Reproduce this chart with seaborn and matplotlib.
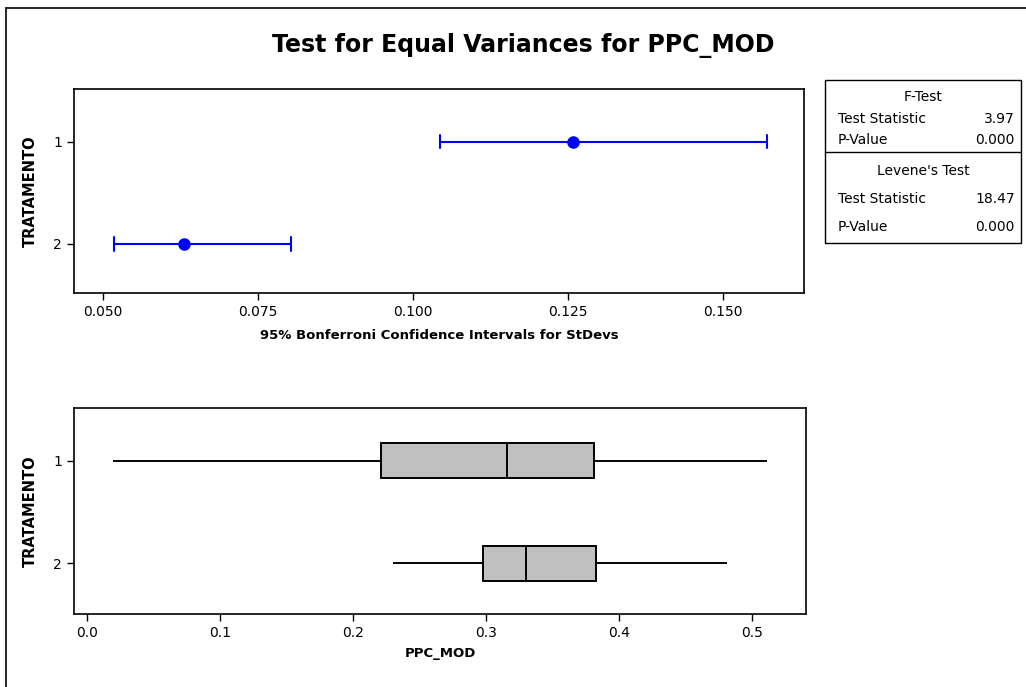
import matplotlib
matplotlib.use("Agg")
import matplotlib.pyplot as plt
from matplotlib.lines import Line2D
from matplotlib.patches import Rectangle
import pandas as pd
import seaborn as sns

sns.set_theme(style="white")
plt.rcParams["font.family"] = ["DejaVu Sans"]
plt.rcParams["text.color"] = "black"
plt.rcParams["axes.labelcolor"] = "black"

# data
groups = ["1", "2"]
sd_lower = [0.1043, 0.0518]
sd_est = [0.1258, 0.0632]
sd_upper = [0.1570, 0.0803]

box_min = [0.020, 0.2305]
box_q1 = [0.221, 0.2977]
box_med = [0.3158, 0.330]
box_q3 = [0.3817, 0.3832]
box_max = [0.5113, 0.4817]

f_stat, f_p = "3.97", "0.000"
lev_stat, lev_p = "18.47", "0.000"

ci_df = pd.DataFrame({
    "TRATAMENTO": [g for g in groups for _ in range(3)],
    "value": [v for i in range(len(groups))
              for v in (sd_lower[i], sd_est[i], sd_upper[i])],
})
box_df = pd.DataFrame({
    "TRATAMENTO": [g for g in groups for _ in range(5)],
    "PPC_MOD": [v for i in range(len(groups))
                for v in (box_min[i], box_q1[i], box_med[i], box_q3[i], box_max[i])],
})

W, H = 1026, 687
fig = plt.figure(figsize=(W / 100, H / 100), dpi=100)

ax1 = fig.add_axes([74 / W, 1 - 293.3 / H, 730 / W, 204 / H])
ax2 = fig.add_axes([74 / W, 1 - 614.3 / H, 732 / W, 206.3 / H])

# top panel: Bonferroni intervals
sns.pointplot(data=ci_df, x="value", y="TRATAMENTO", order=groups, orient="h",
              estimator="median", errorbar=lambda v: (v.min(), v.max()),
              color="#0000ff", linestyle="none", markers="o", markersize=7,
              capsize=0.13, err_kws={"linewidth": 1.5}, ax=ax1)
ax1.set_xlim(0.0454, 0.1630)
ax1.set_xticks([0.050, 0.075, 0.100, 0.125, 0.150])
ax1.set_xticklabels(["0.050", "0.075", "0.100", "0.125", "0.150"])
ax1.set_ylim(1.482, -0.512)
ax1.set_xlabel("95% Bonferroni Confidence Intervals for StDevs",
               fontweight="bold", fontsize=9.5, labelpad=7)

# bottom panel: boxplots
sns.boxplot(data=box_df, x="PPC_MOD", y="TRATAMENTO", order=groups, orient="h",
            width=0.34, color="#c0c0c0", saturation=1, linecolor="black",
            linewidth=1.4, whis=(0, 100), showfliers=False, showcaps=False,
            ax=ax2)
ax2.set_xlim(-0.0095, 0.5408)
ax2.set_xticks([0.0, 0.1, 0.2, 0.3, 0.4, 0.5])
ax2.set_ylim(1.497, -0.514)
ax2.set_xlabel("PPC_MOD", fontweight="bold", fontsize=9.5, labelpad=5)

for ax in (ax1, ax2):
    for s in ax.spines.values():
        s.set_color("black")
        s.set_linewidth(1.2)
    ax.tick_params(axis="both", direction="out", length=5, width=1,
                   color="black", labelsize=10, labelcolor="black",
                   bottom=True, left=True)
    ax.set_ylabel("TRATAMENTO", fontweight="bold", fontsize=10.5)
    ax.yaxis.set_label_coords(-0.05, 0.5)

fig.text(523 / W, 1 - 45 / H, "Test for Equal Variances for PPC_MOD",
         ha="center", va="center", fontsize=17, fontweight="bold")

# outer frame
fig.add_artist(Line2D([6 / W, 6 / W], [0, 1 - 8 / H], transform=fig.transFigure,
                      color="black", linewidth=1.2))
fig.add_artist(Line2D([6 / W, 1], [1 - 8 / H, 1 - 8 / H], transform=fig.transFigure,
                      color="black", linewidth=1.2))

# test results box
bx0, bx1 = 825 / W, 1021 / W
fig.add_artist(Rectangle((bx0, 1 - 243 / H), bx1 - bx0, 163 / H,
                         transform=fig.transFigure, fill=False,
                         edgecolor="black", linewidth=1.0))
fig.add_artist(Line2D([bx0, bx1], [1 - 152 / H, 1 - 152 / H],
                      transform=fig.transFigure, color="black", linewidth=1.0))
lx, rx = 838 / W, 1015 / W
cx = (bx0 + bx1) / 2
rows = [
    (97, "F-Test", None),
    (119, "Test Statistic", f_stat),
    (140, "P-Value", f_p),
    (171, "Levene's Test", None),
    (199, "Test Statistic", lev_stat),
    (227, "P-Value", lev_p),
]
for y, label, val in rows:
    if val is None:
        fig.text(cx, 1 - y / H, label, ha="center", va="center", fontsize=10)
    else:
        fig.text(lx, 1 - y / H, label, ha="left", va="center", fontsize=10)
        fig.text(rx, 1 - y / H, val, ha="right", va="center", fontsize=10)

fig.savefig("out.png", dpi=100)
